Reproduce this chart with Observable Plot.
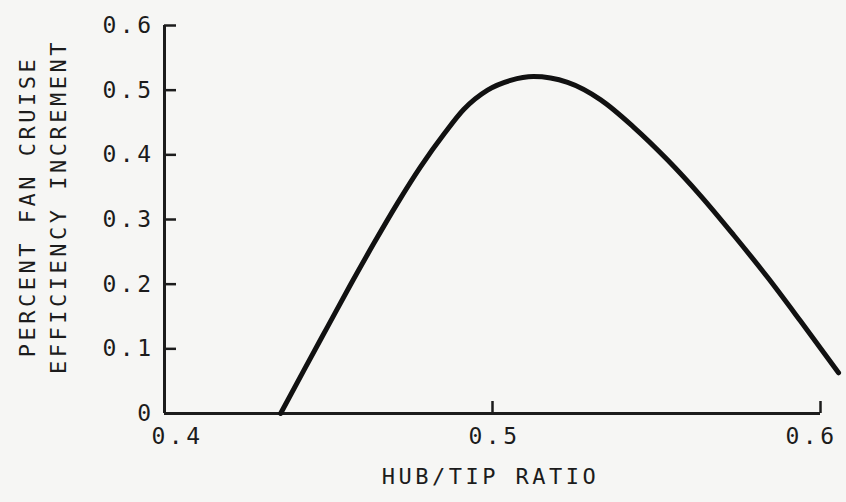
<!DOCTYPE html>
<html>
<head>
<meta charset="utf-8">
<script src="https://cdn.jsdelivr.net/npm/d3@7"></script>
<script src="https://cdn.jsdelivr.net/npm/@observablehq/plot@0.6"></script>
<style>
  html, body { margin: 0; padding: 0; background: #f6f6f4; }
  #chart svg { display: block; }
</style>
</head>
<body>
<div id="chart"></div>
<script>
// Data
const hubTip = [0.4354, 0.4424, 0.4497, 0.4567, 0.4637, 0.4710, 0.4780, 0.4855, 0.4912, 0.4985, 0.5055, 0.5125, 0.5229, 0.5330, 0.5430, 0.5534, 0.5634, 0.5735, 0.5838, 0.5939, 0.6055];
const increment = [0.000, 0.066, 0.134, 0.199, 0.262, 0.325, 0.381, 0.434, 0.470, 0.500, 0.515, 0.521, 0.512, 0.485, 0.443, 0.392, 0.337, 0.276, 0.211, 0.143, 0.063];
const xTicks = [0.4, 0.5, 0.6];
const yTicks = [0, 0.1, 0.2, 0.3, 0.4, 0.5, 0.6];
const xLabel = "HUB/TIP RATIO";
const yLabel = "PERCENT FAN CRUISE\nEFFICIENCY INCREMENT";

const data = hubTip.map((x, i) => ({x, y: increment[i]}));
const ink = "#1c1c1c";
const font = "DejaVu Sans Mono, monospace";

const W = 846, H = 502, mL = 164, mR = 26, mT = 25, mB = 89;
const plotW = W - mL - mR, plotH = H - mT - mB;
const tickLen = 12;

const chart = Plot.plot({
  width: W,
  height: H,
  marginLeft: mL,
  marginRight: mR,
  marginTop: mT,
  marginBottom: mB,
  style: {background: "#f6f6f4", color: ink, fontFamily: font, fontSize: "23px", letterSpacing: "3.5px", overflow: "visible"},
  x: {domain: [0.4, 0.6]},
  y: {domain: [0, 0.6]},
  marks: [
    // inward ticks on y axis
    Plot.tickY(yTicks.filter(d => d > 0), {y: d => d, stroke: ink, strokeWidth: 2.5, insetRight: plotW - tickLen}),
    // inward ticks on x axis
    Plot.tickX(xTicks.filter(d => d > 0.4), {x: d => d, stroke: ink, strokeWidth: 2.5, insetTop: plotH - tickLen}),
    // axis lines
    Plot.ruleX([0.4], {y1: 0, y2: 0.6, stroke: ink, strokeWidth: 3}),
    Plot.ruleY([0], {x1: 0.4, x2: 0.6, stroke: ink, strokeWidth: 3}),
    // tick labels
    Plot.axisY(yTicks, {tickSize: 0, tickPadding: 10, tickFormat: d => d === 0 ? "0" : d.toFixed(1), fill: ink, fontSize: 23, label: null}),
    Plot.axisX([0.4], {tickSize: 0, tickPadding: 14, tickFormat: d => d.toFixed(1), dx: 13, fill: ink, fontSize: 23, label: null}),
    Plot.axisX([0.5], {tickSize: 0, tickPadding: 14, tickFormat: d => d.toFixed(1), dx: 2, fill: ink, fontSize: 23, label: null}),
    Plot.axisX([0.6], {tickSize: 0, tickPadding: 14, tickFormat: d => d.toFixed(1), dx: -9, fill: ink, fontSize: 23, label: null}),
    // axis titles
    Plot.text([xLabel], {text: d => d, frameAnchor: "bottom", dy: 70, dx: -2, fill: ink, fontSize: 22}),
    Plot.text([yLabel], {text: d => d, frameAnchor: "left", textAnchor: "middle", rotate: -90, dx: -124, dy: -13, lineHeight: 1.4, fill: ink, fontSize: 22}),
    // the curve
    Plot.line(data, {x: "x", y: "y", curve: "monotone-x", stroke: "#111", strokeWidth: 5, strokeLinecap: "round", strokeLinejoin: "round"})
  ]
});
document.getElementById("chart").appendChild(chart);
</script>
</body>
</html>
